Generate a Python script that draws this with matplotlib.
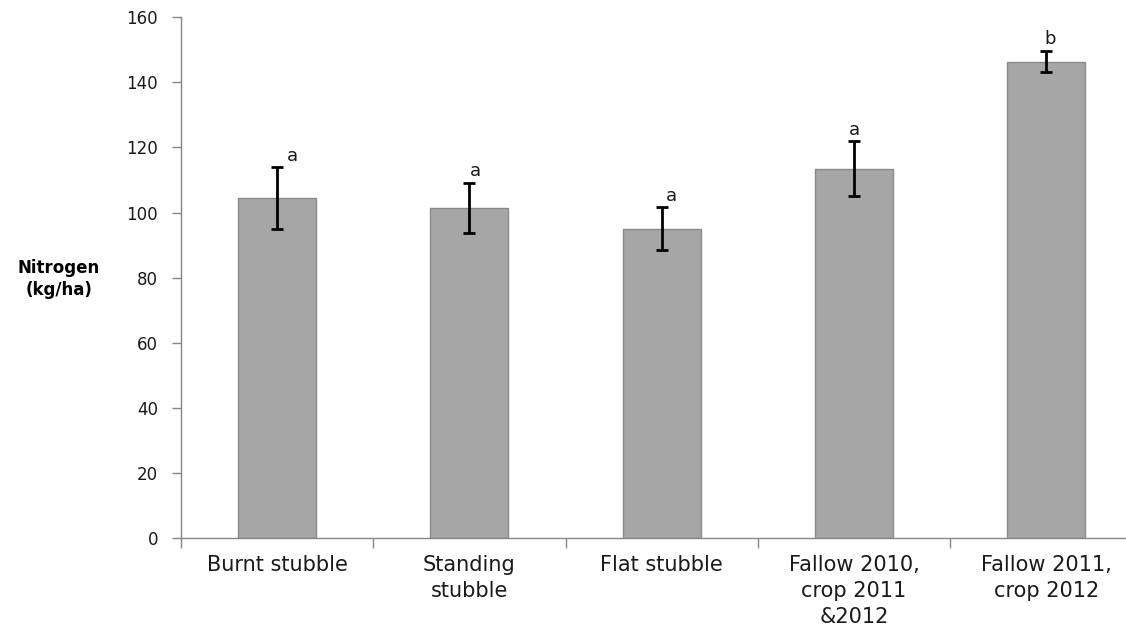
import matplotlib
matplotlib.use("Agg")
import matplotlib.pyplot as plt
import numpy as np

# treatments and soil nitrogen (kg/ha), with error bars and significance letters
treatments = ["Burnt stubble", "Standing\nstubble", "Flat stubble",
              "Fallow 2010,\ncrop 2011\n&2012", "Fallow 2011,\ncrop 2012"]
nitrogen = [104.4, 101.5, 95.1, 113.5, 146.4]
err = [9.5, 7.7, 6.5, 8.4, 3.3]
letters = ["a", "a", "a", "a", "b"]
yticks = [0, 20, 40, 60, 80, 100, 120, 140, 160]

plt.rcParams['font.family'] = ['DejaVu Sans']

fig = plt.figure(figsize=(11.26, 6.30), dpi=100)
ax = fig.add_axes([0.1607, 0.146, 0.854, 0.8265])

x = np.arange(len(treatments))
ax.bar(x, nitrogen, width=0.405, color="#a6a6a6", edgecolor="#8a8a8a", linewidth=1, zorder=2)
ax.errorbar(x, nitrogen, yerr=err, fmt="none", ecolor="black", elinewidth=2,
            capsize=4, capthick=2, zorder=3)

# letters sit just above the error bars
offsets = [0.08, 0.03, 0.05, 0.0, 0.02]
for i in range(len(x)):
    ax.text(x[i] + offsets[i], nitrogen[i] + err[i] + 0.8, letters[i],
            ha="center", va="bottom", fontsize=13, color="#1a1a1a")

ax.set_xlim(-0.5, len(treatments) - 0.5)
ax.set_ylim(0, 160)
ax.set_yticks(yticks)
ax.tick_params(axis="y", labelsize=12, length=6.5, width=1, color="#868686",
               labelcolor="#1a1a1a", pad=10)

ax.set_xticks(x)
ax.set_xticklabels(treatments, fontsize=15, color="#1a1a1a", linespacing=1.38)
ax.tick_params(axis="x", which="major", length=0, pad=12)
ax.set_xticks(np.arange(-0.5, len(treatments) + 0.5, 1), minor=True)
ax.tick_params(axis="x", which="minor", length=7, width=1, color="#868686")

for s in ["top", "right"]:
    ax.spines[s].set_visible(False)
for s in ["left", "bottom"]:
    ax.spines[s].set_color("#868686")
    ax.spines[s].set_linewidth(1)

fig.text(59 / 1126, 1 - 279 / 630, "Nitrogen\n(kg/ha)", ha="center", va="center",
         fontsize=12, fontweight="bold", linespacing=1.3)

fig.savefig("out.png", dpi=100)
